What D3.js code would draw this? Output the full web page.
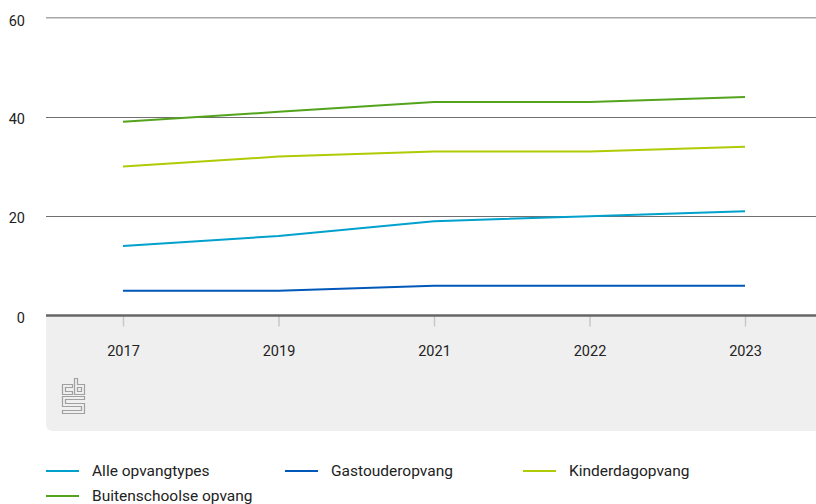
<!DOCTYPE html>
<html><head><meta charset="utf-8">
<script src="https://cdn.jsdelivr.net/npm/d3@7"></script>
<style>
html,body{margin:0;padding:0;background:#fff;}
svg{display:block;}
text{font-family:Roboto,"Open Sans",sans-serif;}
</style></head>
<body>
<svg id="chart" width="816" height="504"></svg>
<script>
const years = ["2017","2019","2021","2022","2023"];
const seriesNames = ["Alle opvangtypes","Gastouderopvang","Kinderdagopvang","Buitenschoolse opvang"];
const alleOpvangtypes = [14,16,19,20,21];
const gastouderopvang = [5,5,6,6,6];
const kinderdagopvang = [30,32,33,33,34];
const buitenschoolseOpvang = [39,41,43,43,44];
const yTicks = [0,20,40,60];
const colors = ["#00a1cd","#0058b8","#afcb05","#53a31d"];

const seriesValues = [alleOpvangtypes, gastouderopvang, kinderdagopvang, buitenschoolseOpvang];

(function(){
const svg = d3.select("#chart");
const mLeft = 46, mRight = 816, mTop = 17.5, mBottom = 315.5;
const x = d3.scalePoint().domain(years).range([123, 745]);
const y = d3.scaleLinear().domain([0,60]).range([mBottom, mTop]);

// gray x-axis panel
svg.append("path")
  .attr("d", `M${mLeft},${mBottom} H${mRight+10} V431 H${mLeft+7} Q${mLeft},431 ${mLeft},424 Z`)
  .attr("fill", "#efefef");

// gridlines
yTicks.filter(t => t > 0).forEach(t => {
  const yy = t === 60 ? 17.7 : Math.round(y(t)) + 0.5;
  svg.append("line")
    .attr("x1", mLeft).attr("x2", mRight)
    .attr("y1", yy).attr("y2", yy)
    .attr("stroke", t === 60 ? "#a8a8a8" : "#707070")
    .attr("stroke-width", t === 60 ? 1.4 : 1);
});

// y labels
svg.append("g").selectAll("text").data(yTicks).join("text")
  .attr("x", 25).attr("y", d => Math.max(y(d) + 7, 26))
  .attr("text-anchor", "end")
  .attr("font-size", 14.5).attr("fill", "#222")
  .text(d => d);

// x ticks
const xAxis = d3.axisBottom(x).tickSize(11).tickPadding(0);
const gx = svg.append("g").attr("transform", `translate(0,${mBottom})`).call(xAxis);
gx.select(".domain").remove();
gx.selectAll(".tick line").attr("stroke", "#c8c8c8").attr("stroke-width", 1.5);
gx.selectAll(".tick text").attr("font-size", 14.5).attr("fill", "#222")
  .attr("font-family", 'Roboto,"Open Sans",sans-serif')
  .attr("dy", null).attr("y", 40);

// baseline
svg.append("line")
  .attr("x1", mLeft).attr("x2", mRight)
  .attr("y1", mBottom).attr("y2", mBottom)
  .attr("stroke", "#666").attr("stroke-width", 2.5);

// lines
const line = d3.line().x((d,i) => x(years[i])).y(d => y(d));
seriesValues.forEach((vals, i) => {
  svg.append("path").datum(vals)
    .attr("d", line)
    .attr("fill", "none")
    .attr("stroke", colors[i])
    .attr("stroke-width", 2);
});

// CBS logo
const logo = svg.append("g").attr("transform", "translate(62,378)")
  .attr("fill", "none").attr("stroke", "#a0a0a0").attr("stroke-width", 1.2);
logo.append("path").attr("d", "M0.5,6.5 H10.5 V9.5 H3.5 V13.5 H10.5 V16.5 H0.5 Z");
logo.append("path").attr("d", "M12.5,0.5 H15.5 V6.5 H22.5 V16.5 H12.5 Z M15.5,9.5 V13.5 H19.5 V9.5 Z");
logo.append("path").attr("d", "M0.5,18.5 H22.5 V21.5 H3.5 V25.5 H22.5 V35.5 H0.5 V32.5 H19.5 V28.5 H0.5 Z");

// legend
const legendPos = [[46,471],[285,471],[523,471],[46,496]];
seriesNames.forEach((name, i) => {
  const [lx, ly] = legendPos[i];
  svg.append("line").attr("x1", lx).attr("x2", lx+33).attr("y1", ly).attr("y2", ly)
    .attr("stroke", colors[i]).attr("stroke-width", 2);
  svg.append("text").attr("x", lx+46).attr("y", ly+4.5)
    .attr("font-size", 15.5).attr("fill", "#222")
    .text(name);
});
})();
</script>
</body></html>
